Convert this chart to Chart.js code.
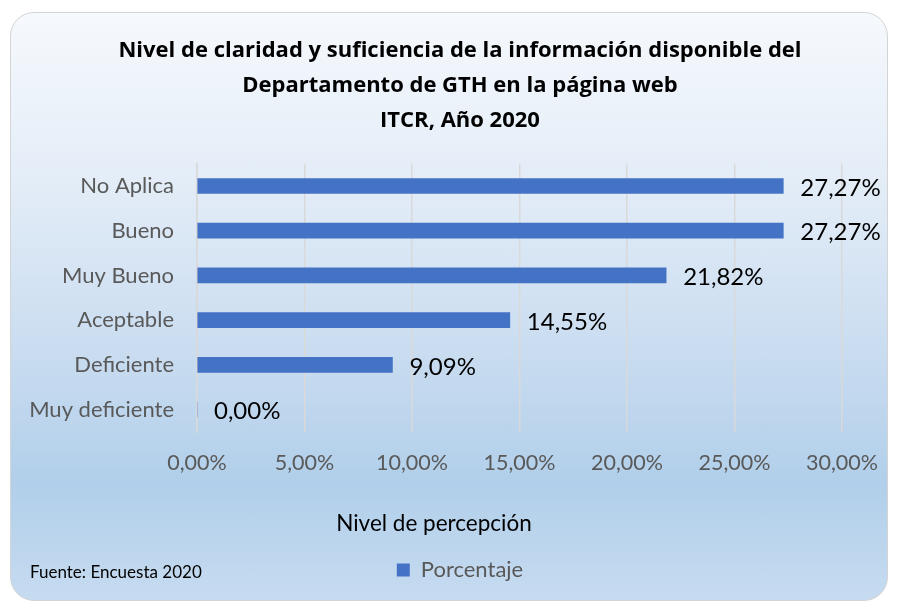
<!DOCTYPE html>
<html>
<head>
<meta charset="utf-8">
<script src="https://cdn.jsdelivr.net/npm/chart.js@4.4.1/dist/chart.umd.min.js"></script>
<style>
  html, body { margin: 0; padding: 0; background: #ffffff; }
  #wrap { position: relative; width: 898px; height: 603px; overflow: hidden; }
  #card {
    position: absolute; left: 10px; top: 12px; width: 878px; height: 589px;
    border: 1.5px solid #d4d4d4; border-radius: 24px; box-sizing: border-box;
    background: linear-gradient(to bottom, #f6f9fd 0%, #e2ecf7 30%, #c9dcf0 58%, #b1cfea 80%, #c6dbf0 100%);
  }
  #myChart { position: absolute; left: 0; top: 0; }
</style>
</head>
<body>
<div id="wrap">
  <div id="card"></div>
  <canvas id="myChart" width="898" height="603"></canvas>
</div>
<script>
const categories = ["No Aplica", "Bueno", "Muy Bueno", "Aceptable", "Deficiente", "Muy deficiente"];
const porcentaje = [27.27, 27.27, 21.82, 14.55, 9.09, 0.00];
const xTicks = [0, 5, 10, 15, 20, 25, 30];

const FONT = "Lato, 'Open Sans', sans-serif";
const TITLE_FONT = "'Open Sans', Lato, sans-serif";
const fmt = v => v.toFixed(2).replace(".", ",") + "%";

// value labels at the end of each bar
const barLabels = {
  id: "barLabels",
  afterDatasetsDraw(chart) {
    const ctx = chart.ctx;
    const meta = chart.getDatasetMeta(0);
    ctx.save();
    ctx.font = "24px " + FONT;
    ctx.fillStyle = "#000000";
    ctx.textAlign = "left";
    ctx.textBaseline = "middle";
    meta.data.forEach((bar, i) => {
      ctx.fillText(fmt(porcentaje[i]), bar.x + 17, bar.y + 2);
    });
    ctx.restore();
  }
};

// axis title and source note
const extraText = {
  id: "extraText",
  afterDraw(chart) {
    const ctx = chart.ctx;
    ctx.save();
    ctx.textBaseline = "middle";
    ctx.fillStyle = "#000000";
    ctx.font = "22.5px " + FONT;
    ctx.textAlign = "center";
    ctx.fillText("Nivel de percepción", 434, 524);
    ctx.font = "17px " + FONT;
    ctx.textAlign = "left";
    ctx.fillText("Fuente: Encuesta 2020", 30, 573);
    ctx.restore();
  }
};

const ctx = document.getElementById("myChart").getContext("2d");
const myChart = new Chart(ctx, {
  type: "bar",
  data: {
    labels: categories,
    datasets: [
      {
        label: "Porcentaje",
        data: porcentaje,
        backgroundColor: "#4472C4",
        barThickness: 15,
      },
    ],
  },
  options: {
    indexAxis: "y",
    responsive: false,
    animation: false,
    layout: { padding: { left: 78, right: 56, top: 33, bottom: 12 } },
    plugins: {
      title: {
        display: true,
        text: [
          "Nivel de claridad y suficiencia de la información disponible del",
          "Departamento de GTH en la página web",
          "ITCR, Año 2020"
        ],
        color: "#000000",
        font: { family: TITLE_FONT, size: 22, weight: "bold", lineHeight: 1.6 },
        padding: { top: 0, bottom: 25 },
      },
      legend: {
        position: "bottom",
        labels: {
          color: "#595959",
          font: { family: FONT, size: 22 },
          boxWidth: 13,
          boxHeight: 13,
          padding: 10,
        },
      },
      tooltip: { enabled: false },
    },
    scales: {
      x: {
        min: 0,
        max: 30,
        afterBuildTicks(scale) {
          scale.ticks = xTicks.map(v => ({ value: v }));
        },
        afterFit(scale) {
          scale.paddingLeft = 0;
          scale.paddingRight = 0;
          scale.height = 117;
        },
        ticks: {
          color: "#595959",
          font: { family: FONT, size: 21.5 },
          padding: 18,
          callback: v => fmt(v),
        },
        grid: { color: "#d9d9d9", lineWidth: 1.5, drawTicks: false },
        border: { display: false },
      },
      y: {
        afterFit(scale) {
          scale.width = 119;
          // let the long category names run past the axis box
          scale._computeLabelArea = () => undefined;
        },
        ticks: {
          color: "#595959",
          font: { family: FONT, size: 22 },
          padding: 23,
        },
        grid: { display: false, drawTicks: false },
        border: { display: true, color: "#d9d9d9", width: 1.5 },
      },
    },
  },
  plugins: [barLabels, extraText],
});
</script>
</body>
</html>
